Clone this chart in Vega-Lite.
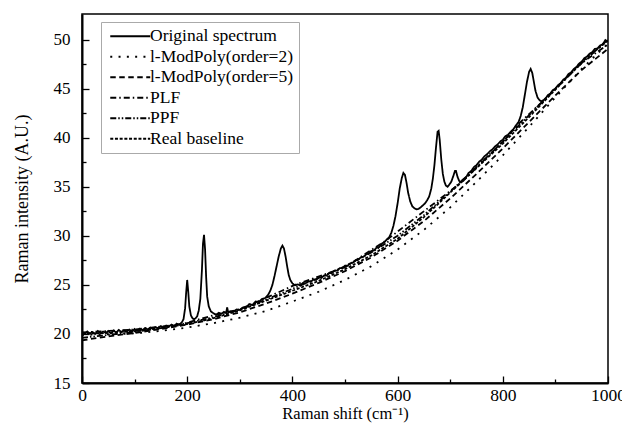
{
  "$schema": "https://vega.github.io/schema/vega-lite/v6.json",
  "width": 526,
  "height": 369,
  "autosize": {"type": "none"},
  "padding": {"left": 82, "top": 14, "right": 14, "bottom": 40},
  "background": "white",
  "config": {
    "font": "Liberation Serif",
    "view": {"stroke": "black", "strokeWidth": 1.5}
  },
  "datasets": {
    "rows": [
      {"s": "Original spectrum", "x": 0, "y": 20.2},
      {"s": "Original spectrum", "x": 5, "y": 20.0},
      {"s": "Original spectrum", "x": 10, "y": 20.25},
      {"s": "Original spectrum", "x": 15, "y": 20.05},
      {"s": "Original spectrum", "x": 20, "y": 20.2},
      {"s": "Original spectrum", "x": 25, "y": 20.0},
      {"s": "Original spectrum", "x": 30, "y": 20.3},
      {"s": "Original spectrum", "x": 35, "y": 20.05},
      {"s": "Original spectrum", "x": 40, "y": 20.25},
      {"s": "Original spectrum", "x": 45, "y": 20.1},
      {"s": "Original spectrum", "x": 50, "y": 20.3},
      {"s": "Original spectrum", "x": 55, "y": 20.05},
      {"s": "Original spectrum", "x": 60, "y": 20.35},
      {"s": "Original spectrum", "x": 65, "y": 20.15},
      {"s": "Original spectrum", "x": 70, "y": 20.4},
      {"s": "Original spectrum", "x": 75, "y": 20.2},
      {"s": "Original spectrum", "x": 80, "y": 20.35},
      {"s": "Original spectrum", "x": 85, "y": 20.25},
      {"s": "Original spectrum", "x": 90, "y": 20.45},
      {"s": "Original spectrum", "x": 95, "y": 20.25},
      {"s": "Original spectrum", "x": 100, "y": 20.5},
      {"s": "Original spectrum", "x": 105, "y": 20.3},
      {"s": "Original spectrum", "x": 110, "y": 20.55},
      {"s": "Original spectrum", "x": 115, "y": 20.4},
      {"s": "Original spectrum", "x": 120, "y": 20.6},
      {"s": "Original spectrum", "x": 125, "y": 20.45},
      {"s": "Original spectrum", "x": 130, "y": 20.65},
      {"s": "Original spectrum", "x": 135, "y": 20.5},
      {"s": "Original spectrum", "x": 140, "y": 20.7},
      {"s": "Original spectrum", "x": 145, "y": 20.55},
      {"s": "Original spectrum", "x": 150, "y": 20.8},
      {"s": "Original spectrum", "x": 155, "y": 20.65},
      {"s": "Original spectrum", "x": 160, "y": 20.85},
      {"s": "Original spectrum", "x": 165, "y": 20.75},
      {"s": "Original spectrum", "x": 170, "y": 20.95},
      {"s": "Original spectrum", "x": 175, "y": 20.8},
      {"s": "Original spectrum", "x": 180, "y": 21.05},
      {"s": "Original spectrum", "x": 185, "y": 20.95},
      {"s": "Original spectrum", "x": 190, "y": 21.2},
      {"s": "Original spectrum", "x": 193, "y": 21.5},
      {"s": "Original spectrum", "x": 196, "y": 22.6},
      {"s": "Original spectrum", "x": 198, "y": 24.2},
      {"s": "Original spectrum", "x": 200, "y": 25.5},
      {"s": "Original spectrum", "x": 202, "y": 24.3},
      {"s": "Original spectrum", "x": 204, "y": 22.8},
      {"s": "Original spectrum", "x": 207, "y": 21.9},
      {"s": "Original spectrum", "x": 210, "y": 21.6},
      {"s": "Original spectrum", "x": 213, "y": 21.5},
      {"s": "Original spectrum", "x": 216, "y": 21.6},
      {"s": "Original spectrum", "x": 219, "y": 21.8},
      {"s": "Original spectrum", "x": 222, "y": 22.4},
      {"s": "Original spectrum", "x": 225, "y": 23.6},
      {"s": "Original spectrum", "x": 228, "y": 26.5},
      {"s": "Original spectrum", "x": 230, "y": 29.2},
      {"s": "Original spectrum", "x": 232, "y": 30.1},
      {"s": "Original spectrum", "x": 234, "y": 28.6},
      {"s": "Original spectrum", "x": 236, "y": 25.8},
      {"s": "Original spectrum", "x": 238, "y": 23.8},
      {"s": "Original spectrum", "x": 241, "y": 22.8},
      {"s": "Original spectrum", "x": 245, "y": 22.3},
      {"s": "Original spectrum", "x": 250, "y": 22.1},
      {"s": "Original spectrum", "x": 255, "y": 21.95},
      {"s": "Original spectrum", "x": 260, "y": 22.15},
      {"s": "Original spectrum", "x": 265, "y": 22.05},
      {"s": "Original spectrum", "x": 270, "y": 22.25},
      {"s": "Original spectrum", "x": 274, "y": 22.15},
      {"s": "Original spectrum", "x": 276, "y": 22.7},
      {"s": "Original spectrum", "x": 278, "y": 22.2},
      {"s": "Original spectrum", "x": 282, "y": 22.3},
      {"s": "Original spectrum", "x": 288, "y": 22.25},
      {"s": "Original spectrum", "x": 294, "y": 22.5},
      {"s": "Original spectrum", "x": 300, "y": 22.45},
      {"s": "Original spectrum", "x": 306, "y": 22.7},
      {"s": "Original spectrum", "x": 312, "y": 22.7},
      {"s": "Original spectrum", "x": 318, "y": 23.05},
      {"s": "Original spectrum", "x": 324, "y": 22.95},
      {"s": "Original spectrum", "x": 330, "y": 23.3},
      {"s": "Original spectrum", "x": 336, "y": 23.25},
      {"s": "Original spectrum", "x": 342, "y": 23.55},
      {"s": "Original spectrum", "x": 348, "y": 23.65},
      {"s": "Original spectrum", "x": 354, "y": 24.0},
      {"s": "Original spectrum", "x": 358, "y": 24.4},
      {"s": "Original spectrum", "x": 362, "y": 25.0},
      {"s": "Original spectrum", "x": 366, "y": 25.9},
      {"s": "Original spectrum", "x": 370, "y": 26.9},
      {"s": "Original spectrum", "x": 374, "y": 27.9},
      {"s": "Original spectrum", "x": 378, "y": 28.7},
      {"s": "Original spectrum", "x": 381, "y": 29.0},
      {"s": "Original spectrum", "x": 384, "y": 28.7},
      {"s": "Original spectrum", "x": 387, "y": 27.9},
      {"s": "Original spectrum", "x": 390, "y": 26.9},
      {"s": "Original spectrum", "x": 393, "y": 26.0},
      {"s": "Original spectrum", "x": 396, "y": 25.5},
      {"s": "Original spectrum", "x": 400, "y": 25.15},
      {"s": "Original spectrum", "x": 405, "y": 24.95},
      {"s": "Original spectrum", "x": 410, "y": 25.05},
      {"s": "Original spectrum", "x": 415, "y": 24.95},
      {"s": "Original spectrum", "x": 420, "y": 25.2},
      {"s": "Original spectrum", "x": 425, "y": 25.15},
      {"s": "Original spectrum", "x": 430, "y": 25.4},
      {"s": "Original spectrum", "x": 435, "y": 25.3},
      {"s": "Original spectrum", "x": 440, "y": 25.55},
      {"s": "Original spectrum", "x": 445, "y": 25.5},
      {"s": "Original spectrum", "x": 450, "y": 25.75},
      {"s": "Original spectrum", "x": 455, "y": 25.7},
      {"s": "Original spectrum", "x": 460, "y": 25.95},
      {"s": "Original spectrum", "x": 465, "y": 25.95},
      {"s": "Original spectrum", "x": 470, "y": 26.2},
      {"s": "Original spectrum", "x": 475, "y": 26.2},
      {"s": "Original spectrum", "x": 480, "y": 26.45},
      {"s": "Original spectrum", "x": 485, "y": 26.45},
      {"s": "Original spectrum", "x": 490, "y": 26.7},
      {"s": "Original spectrum", "x": 495, "y": 26.7},
      {"s": "Original spectrum", "x": 500, "y": 26.95},
      {"s": "Original spectrum", "x": 505, "y": 26.95},
      {"s": "Original spectrum", "x": 510, "y": 27.2},
      {"s": "Original spectrum", "x": 515, "y": 27.25},
      {"s": "Original spectrum", "x": 520, "y": 27.5},
      {"s": "Original spectrum", "x": 525, "y": 27.55},
      {"s": "Original spectrum", "x": 530, "y": 27.8},
      {"s": "Original spectrum", "x": 535, "y": 27.85},
      {"s": "Original spectrum", "x": 540, "y": 28.1},
      {"s": "Original spectrum", "x": 545, "y": 28.2},
      {"s": "Original spectrum", "x": 550, "y": 28.45},
      {"s": "Original spectrum", "x": 555, "y": 28.5},
      {"s": "Original spectrum", "x": 560, "y": 28.8},
      {"s": "Original spectrum", "x": 565, "y": 28.85},
      {"s": "Original spectrum", "x": 570, "y": 29.2},
      {"s": "Original spectrum", "x": 575, "y": 29.35},
      {"s": "Original spectrum", "x": 580, "y": 29.65},
      {"s": "Original spectrum", "x": 584, "y": 29.85},
      {"s": "Original spectrum", "x": 588, "y": 30.3},
      {"s": "Original spectrum", "x": 592, "y": 31.0},
      {"s": "Original spectrum", "x": 596, "y": 32.0},
      {"s": "Original spectrum", "x": 600, "y": 33.3},
      {"s": "Original spectrum", "x": 604, "y": 34.8},
      {"s": "Original spectrum", "x": 608, "y": 35.9},
      {"s": "Original spectrum", "x": 611, "y": 36.4},
      {"s": "Original spectrum", "x": 614, "y": 36.2},
      {"s": "Original spectrum", "x": 617, "y": 35.4},
      {"s": "Original spectrum", "x": 620, "y": 34.4},
      {"s": "Original spectrum", "x": 624, "y": 33.5},
      {"s": "Original spectrum", "x": 628, "y": 33.0},
      {"s": "Original spectrum", "x": 632, "y": 32.8},
      {"s": "Original spectrum", "x": 636, "y": 32.7},
      {"s": "Original spectrum", "x": 640, "y": 32.75},
      {"s": "Original spectrum", "x": 644, "y": 32.9},
      {"s": "Original spectrum", "x": 648, "y": 33.1},
      {"s": "Original spectrum", "x": 652, "y": 33.3},
      {"s": "Original spectrum", "x": 656, "y": 33.6},
      {"s": "Original spectrum", "x": 660, "y": 34.0},
      {"s": "Original spectrum", "x": 664, "y": 34.8},
      {"s": "Original spectrum", "x": 667, "y": 35.8},
      {"s": "Original spectrum", "x": 670, "y": 37.2},
      {"s": "Original spectrum", "x": 673, "y": 39.0},
      {"s": "Original spectrum", "x": 676, "y": 40.6},
      {"s": "Original spectrum", "x": 678, "y": 40.7},
      {"s": "Original spectrum", "x": 680, "y": 39.8},
      {"s": "Original spectrum", "x": 683, "y": 37.8},
      {"s": "Original spectrum", "x": 686, "y": 36.3},
      {"s": "Original spectrum", "x": 689, "y": 35.5},
      {"s": "Original spectrum", "x": 692, "y": 35.1},
      {"s": "Original spectrum", "x": 695, "y": 35.0},
      {"s": "Original spectrum", "x": 698, "y": 35.2},
      {"s": "Original spectrum", "x": 702, "y": 35.5},
      {"s": "Original spectrum", "x": 706, "y": 36.1},
      {"s": "Original spectrum", "x": 709, "y": 36.6},
      {"s": "Original spectrum", "x": 711, "y": 36.6},
      {"s": "Original spectrum", "x": 714, "y": 36.0},
      {"s": "Original spectrum", "x": 717, "y": 35.6},
      {"s": "Original spectrum", "x": 720, "y": 35.5},
      {"s": "Original spectrum", "x": 725, "y": 35.75},
      {"s": "Original spectrum", "x": 730, "y": 35.95},
      {"s": "Original spectrum", "x": 735, "y": 36.4},
      {"s": "Original spectrum", "x": 740, "y": 36.6},
      {"s": "Original spectrum", "x": 745, "y": 37.0},
      {"s": "Original spectrum", "x": 750, "y": 37.2},
      {"s": "Original spectrum", "x": 755, "y": 37.55},
      {"s": "Original spectrum", "x": 760, "y": 37.75},
      {"s": "Original spectrum", "x": 765, "y": 38.1},
      {"s": "Original spectrum", "x": 770, "y": 38.3},
      {"s": "Original spectrum", "x": 775, "y": 38.6},
      {"s": "Original spectrum", "x": 780, "y": 38.8},
      {"s": "Original spectrum", "x": 785, "y": 39.1},
      {"s": "Original spectrum", "x": 790, "y": 39.3},
      {"s": "Original spectrum", "x": 795, "y": 39.6},
      {"s": "Original spectrum", "x": 800, "y": 39.8},
      {"s": "Original spectrum", "x": 805, "y": 40.15},
      {"s": "Original spectrum", "x": 810, "y": 40.3},
      {"s": "Original spectrum", "x": 815, "y": 40.6},
      {"s": "Original spectrum", "x": 820, "y": 40.85},
      {"s": "Original spectrum", "x": 825, "y": 41.25},
      {"s": "Original spectrum", "x": 830, "y": 41.6},
      {"s": "Original spectrum", "x": 834, "y": 42.2},
      {"s": "Original spectrum", "x": 838, "y": 43.1},
      {"s": "Original spectrum", "x": 842, "y": 44.4},
      {"s": "Original spectrum", "x": 846, "y": 45.7},
      {"s": "Original spectrum", "x": 850, "y": 46.7},
      {"s": "Original spectrum", "x": 853, "y": 47.0},
      {"s": "Original spectrum", "x": 856, "y": 46.6},
      {"s": "Original spectrum", "x": 859, "y": 45.7},
      {"s": "Original spectrum", "x": 862, "y": 44.8},
      {"s": "Original spectrum", "x": 866, "y": 44.1},
      {"s": "Original spectrum", "x": 870, "y": 43.8},
      {"s": "Original spectrum", "x": 874, "y": 43.7},
      {"s": "Original spectrum", "x": 878, "y": 43.85},
      {"s": "Original spectrum", "x": 882, "y": 44.05},
      {"s": "Original spectrum", "x": 886, "y": 44.35},
      {"s": "Original spectrum", "x": 890, "y": 44.45},
      {"s": "Original spectrum", "x": 895, "y": 44.85},
      {"s": "Original spectrum", "x": 900, "y": 45.0},
      {"s": "Original spectrum", "x": 905, "y": 45.35},
      {"s": "Original spectrum", "x": 910, "y": 45.55},
      {"s": "Original spectrum", "x": 915, "y": 45.9},
      {"s": "Original spectrum", "x": 920, "y": 46.1},
      {"s": "Original spectrum", "x": 925, "y": 46.5},
      {"s": "Original spectrum", "x": 930, "y": 46.65},
      {"s": "Original spectrum", "x": 935, "y": 47.0},
      {"s": "Original spectrum", "x": 940, "y": 47.2},
      {"s": "Original spectrum", "x": 945, "y": 47.55},
      {"s": "Original spectrum", "x": 950, "y": 47.75},
      {"s": "Original spectrum", "x": 955, "y": 48.1},
      {"s": "Original spectrum", "x": 960, "y": 48.25},
      {"s": "Original spectrum", "x": 965, "y": 48.55},
      {"s": "Original spectrum", "x": 970, "y": 48.7},
      {"s": "Original spectrum", "x": 975, "y": 49.05},
      {"s": "Original spectrum", "x": 980, "y": 49.1},
      {"s": "Original spectrum", "x": 985, "y": 49.4},
      {"s": "Original spectrum", "x": 990, "y": 49.5},
      {"s": "Original spectrum", "x": 995, "y": 49.95},
      {"s": "Original spectrum", "x": 1000, "y": 49.8},

      {"s": "l-ModPoly(order=2)", "x": 0, "y": 19.9},
      {"s": "l-ModPoly(order=2)", "x": 50, "y": 19.95},
      {"s": "l-ModPoly(order=2)", "x": 100, "y": 20.05},
      {"s": "l-ModPoly(order=2)", "x": 150, "y": 20.3},
      {"s": "l-ModPoly(order=2)", "x": 200, "y": 20.65},
      {"s": "l-ModPoly(order=2)", "x": 250, "y": 21.1},
      {"s": "l-ModPoly(order=2)", "x": 300, "y": 21.65},
      {"s": "l-ModPoly(order=2)", "x": 350, "y": 22.35},
      {"s": "l-ModPoly(order=2)", "x": 400, "y": 23.3},
      {"s": "l-ModPoly(order=2)", "x": 450, "y": 24.3},
      {"s": "l-ModPoly(order=2)", "x": 500, "y": 25.5},
      {"s": "l-ModPoly(order=2)", "x": 550, "y": 26.9},
      {"s": "l-ModPoly(order=2)", "x": 600, "y": 28.6},
      {"s": "l-ModPoly(order=2)", "x": 650, "y": 30.6},
      {"s": "l-ModPoly(order=2)", "x": 700, "y": 32.9},
      {"s": "l-ModPoly(order=2)", "x": 750, "y": 35.5},
      {"s": "l-ModPoly(order=2)", "x": 800, "y": 38.2},
      {"s": "l-ModPoly(order=2)", "x": 850, "y": 41.1},
      {"s": "l-ModPoly(order=2)", "x": 900, "y": 44.1},
      {"s": "l-ModPoly(order=2)", "x": 950, "y": 47.0},
      {"s": "l-ModPoly(order=2)", "x": 1000, "y": 49.6},

      {"s": "l-ModPoly(order=5)", "x": 0, "y": 19.35},
      {"s": "l-ModPoly(order=5)", "x": 50, "y": 19.75},
      {"s": "l-ModPoly(order=5)", "x": 100, "y": 20.1},
      {"s": "l-ModPoly(order=5)", "x": 150, "y": 20.5},
      {"s": "l-ModPoly(order=5)", "x": 200, "y": 20.95},
      {"s": "l-ModPoly(order=5)", "x": 250, "y": 21.5},
      {"s": "l-ModPoly(order=5)", "x": 300, "y": 22.2},
      {"s": "l-ModPoly(order=5)", "x": 350, "y": 23.1},
      {"s": "l-ModPoly(order=5)", "x": 400, "y": 24.1},
      {"s": "l-ModPoly(order=5)", "x": 450, "y": 25.2},
      {"s": "l-ModPoly(order=5)", "x": 500, "y": 26.4},
      {"s": "l-ModPoly(order=5)", "x": 550, "y": 27.8},
      {"s": "l-ModPoly(order=5)", "x": 600, "y": 29.5},
      {"s": "l-ModPoly(order=5)", "x": 650, "y": 31.5},
      {"s": "l-ModPoly(order=5)", "x": 700, "y": 33.8},
      {"s": "l-ModPoly(order=5)", "x": 750, "y": 36.3},
      {"s": "l-ModPoly(order=5)", "x": 800, "y": 38.9},
      {"s": "l-ModPoly(order=5)", "x": 850, "y": 41.6},
      {"s": "l-ModPoly(order=5)", "x": 900, "y": 44.3},
      {"s": "l-ModPoly(order=5)", "x": 950, "y": 46.9},
      {"s": "l-ModPoly(order=5)", "x": 1000, "y": 49.05},

      {"s": "PLF", "x": 0, "y": 20.15},
      {"s": "PLF", "x": 100, "y": 20.45},
      {"s": "PLF", "x": 190, "y": 21.0},
      {"s": "PLF", "x": 250, "y": 21.9},
      {"s": "PLF", "x": 300, "y": 22.5},
      {"s": "PLF", "x": 355, "y": 23.8},
      {"s": "PLF", "x": 405, "y": 25.0},
      {"s": "PLF", "x": 500, "y": 26.8},
      {"s": "PLF", "x": 580, "y": 29.6},
      {"s": "PLF", "x": 725, "y": 35.6},
      {"s": "PLF", "x": 800, "y": 39.6},
      {"s": "PLF", "x": 830, "y": 41.4},
      {"s": "PLF", "x": 880, "y": 43.9},
      {"s": "PLF", "x": 950, "y": 47.6},
      {"s": "PLF", "x": 1000, "y": 49.5},

      {"s": "PPF", "x": 0, "y": 19.6},
      {"s": "PPF", "x": 50, "y": 19.9},
      {"s": "PPF", "x": 100, "y": 20.2},
      {"s": "PPF", "x": 150, "y": 20.6},
      {"s": "PPF", "x": 200, "y": 21.1},
      {"s": "PPF", "x": 250, "y": 21.7},
      {"s": "PPF", "x": 300, "y": 22.5},
      {"s": "PPF", "x": 350, "y": 23.5},
      {"s": "PPF", "x": 400, "y": 24.6},
      {"s": "PPF", "x": 450, "y": 25.7},
      {"s": "PPF", "x": 500, "y": 26.9},
      {"s": "PPF", "x": 550, "y": 28.3},
      {"s": "PPF", "x": 600, "y": 30.0},
      {"s": "PPF", "x": 650, "y": 32.1},
      {"s": "PPF", "x": 700, "y": 34.5},
      {"s": "PPF", "x": 750, "y": 37.0},
      {"s": "PPF", "x": 800, "y": 39.6},
      {"s": "PPF", "x": 850, "y": 42.3},
      {"s": "PPF", "x": 900, "y": 45.0},
      {"s": "PPF", "x": 950, "y": 47.6},
      {"s": "PPF", "x": 1000, "y": 50.0},

      {"s": "Real baseline", "x": 0, "y": 20.0},
      {"s": "Real baseline", "x": 50, "y": 20.1},
      {"s": "Real baseline", "x": 100, "y": 20.3},
      {"s": "Real baseline", "x": 150, "y": 20.6},
      {"s": "Real baseline", "x": 200, "y": 21.0},
      {"s": "Real baseline", "x": 250, "y": 21.6},
      {"s": "Real baseline", "x": 300, "y": 22.4},
      {"s": "Real baseline", "x": 350, "y": 23.4},
      {"s": "Real baseline", "x": 400, "y": 24.4},
      {"s": "Real baseline", "x": 450, "y": 25.4},
      {"s": "Real baseline", "x": 500, "y": 26.6},
      {"s": "Real baseline", "x": 550, "y": 28.0},
      {"s": "Real baseline", "x": 600, "y": 29.7},
      {"s": "Real baseline", "x": 650, "y": 31.9},
      {"s": "Real baseline", "x": 700, "y": 34.4},
      {"s": "Real baseline", "x": 750, "y": 36.9},
      {"s": "Real baseline", "x": 800, "y": 39.4},
      {"s": "Real baseline", "x": 850, "y": 42.1},
      {"s": "Real baseline", "x": 900, "y": 44.9},
      {"s": "Real baseline", "x": 950, "y": 47.7},
      {"s": "Real baseline", "x": 1000, "y": 49.9}
    ]
  },
  "data": {"name": "rows"},
  "mark": {"type": "line", "color": "black", "clip": true},
  "encoding": {
    "x": {
      "field": "x",
      "type": "quantitative",
      "scale": {"domain": [0, 1000], "nice": false, "zero": false},
      "axis": {
        "title": "Raman shift (cm⁻¹)",
        "format": "d",
        "values": [0, 100, 200, 300, 400, 500, 600, 700, 800, 900, 1000],
        "labelExpr": "datum.value % 200 === 0 ? datum.label : ''",
        "tickSize": {"condition": {"test": "datum.value % 200 === 0", "value": -7}, "value": -4},
        "labelPadding": 10.5,
        "titlePadding": -2,
        "labelFlush": false,
        "labelOverlap": false,
        "labelFont": "Liberation Serif",
        "labelFontSize": 17.5,
        "labelColor": "black",
        "titleFont": "Liberation Serif",
        "titleFontSize": 16.5,
        "titleFontWeight": "normal",
        "titleColor": "black",
        "domainColor": "black",
        "domainWidth": 2,
        "tickColor": "black",
        "tickWidth": 1.3,
        "grid": false
      }
    },
    "y": {
      "field": "y",
      "type": "quantitative",
      "scale": {"domain": [15, 52.6], "nice": false, "zero": false},
      "axis": {
        "title": "Raman intensity (A.U.)",
        "values": [15, 17.5, 20, 22.5, 25, 27.5, 30, 32.5, 35, 37.5, 40, 42.5, 45, 47.5, 50],
        "labelExpr": "datum.value % 5 === 0 ? datum.label : ''",
        "tickSize": {"condition": {"test": "datum.value % 5 === 0", "value": -7}, "value": -4},
        "labelPadding": 19,
        "titlePadding": 22,
        "labelFlush": false,
        "labelOverlap": false,
        "labelFont": "Liberation Serif",
        "labelFontSize": 17,
        "labelColor": "black",
        "titleFont": "Liberation Serif",
        "titleFontSize": 18,
        "titleFontWeight": "normal",
        "titleColor": "black",
        "domainColor": "black",
        "domainWidth": 2,
        "tickColor": "black",
        "tickWidth": 1.3,
        "grid": false
      }
    },
    "strokeDash": {
      "field": "s",
      "type": "nominal",
      "scale": {
        "domain": ["Original spectrum", "l-ModPoly(order=2)", "l-ModPoly(order=5)", "PLF", "PPF", "Real baseline"],
        "range": [[1, 0], [2, 6.3], [5.5, 3.5], [6, 3, 1.5, 3], [6, 2, 1.5, 2, 1.5, 2], [3, 1.7]]
      },
      "legend": {
        "title": null,
        "orient": "none",
        "legendX": 19,
        "legendY": 8,
        "symbolType": "M-1,0H7",
        "symbolSize": 100,
        "symbolStrokeColor": "black",
        "symbolStrokeWidth": 1.3,
        "labelOffset": 26,
        "labelFont": "Liberation Serif",
        "labelFontSize": 17.5,
        "labelColor": "black",
        "rowPadding": 1.5,
        "strokeColor": "#aaaaaa",
        "fillColor": "white",
        "padding": 5.5
      }
    },
    "strokeWidth": {
      "field": "s",
      "type": "nominal",
      "scale": {
        "domain": ["Original spectrum", "l-ModPoly(order=2)", "l-ModPoly(order=5)", "PLF", "PPF", "Real baseline"],
        "range": [1.8, 1.8, 1.2, 1.2, 1.3, 1.1]
      },
      "legend": null
    }
  }
}
